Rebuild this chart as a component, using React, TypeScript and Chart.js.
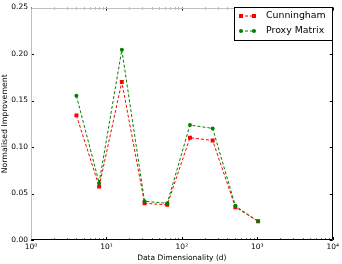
import React, { useEffect, useRef } from 'react';
import { Chart, registerables } from 'chart.js';

Chart.register(...registerables);

const dims = [4, 8, 16, 32, 64, 128, 256, 512, 1024];
const cunningham = [0.134, 0.0575, 0.170, 0.0395, 0.0378, 0.110, 0.107, 0.0353, 0.0201];
const proxyMatrix = [0.155, 0.0614, 0.2045, 0.0416, 0.0395, 0.1236, 0.120, 0.0367, 0.0201];
const seriesLabels = ['Cunningham', 'Proxy Matrix'];
const seriesColors = ['#ff0000', '#008000'];
const xTickLabels = ['10\u2070', '10\u00b9', '10\u00b2', '10\u00b3', '10\u2074'];
const yTickValues = [0, 0.05, 0.1, 0.15, 0.2, 0.25];
const xTitle = 'Data Dimensionality (d)';
const yTitle = 'Normalised Improvement';

const FONT = 'DejaVu Sans';

const framePlugin = {
  id: 'frameTicksLegend',
  afterDraw(chart: any) {
    const { ctx, chartArea: a, scales } = chart;
    const xs = scales.x;
    const ys = scales.y;
    ctx.save();
    ctx.lineWidth = 1;
    ctx.setLineDash([]);
    // x ticks (inward, bottom & top)
    for (let e = 0; e <= 4; e++) {
      for (let m = 1; m <= 9; m++) {
        const v = m * Math.pow(10, e);
        if (v > 10000) break;
        const px = Math.round(xs.getPixelForValue(v)) + 0.5;
        const major = m === 1;
        const len = major ? 3 : 2;
        ctx.strokeStyle = major ? '#000' : '#777';
        ctx.beginPath();
        ctx.moveTo(px, a.bottom);
        ctx.lineTo(px, a.bottom - len);
        ctx.moveTo(px, a.top);
        ctx.lineTo(px, a.top + len);
        ctx.stroke();
      }
    }
    // y ticks (inward, left & right)
    ctx.strokeStyle = '#000';
    yTickValues.forEach((v) => {
      const py = Math.round(ys.getPixelForValue(v)) + 0.5;
      ctx.beginPath();
      ctx.moveTo(a.left, py);
      ctx.lineTo(a.left + 3, py);
      ctx.moveTo(a.right, py);
      ctx.lineTo(a.right - 3, py);
      ctx.stroke();
    });
    // frame
    const L = Math.round(a.left) + 0.5;
    const R = Math.round(a.right) - 0.5;
    const T = Math.round(a.top) + 0.5;
    const B = Math.round(a.bottom) - 0.5;
    ctx.strokeStyle = '#bfbfbf';
    ctx.beginPath();
    ctx.moveTo(L, B);
    ctx.lineTo(L, T);
    ctx.lineTo(R, T);
    ctx.stroke();
    ctx.strokeStyle = '#000';
    ctx.beginPath();
    ctx.moveTo(L, B);
    ctx.lineTo(R, B);
    ctx.lineTo(R, T);
    ctx.stroke();

    // legend
    const lx = 234.5, ly = 7.5, lw = 98, lh = 33;
    ctx.fillStyle = '#fff';
    ctx.fillRect(lx, ly, lw, lh);
    ctx.strokeStyle = '#000';
    ctx.strokeRect(lx, ly, lw, lh);
    chart.data.datasets.forEach((ds: any, i: number) => {
      const yy = 16 + i * 15;
      ctx.strokeStyle = ds.borderColor;
      ctx.setLineDash([3, 2]);
      ctx.beginPath();
      ctx.moveTo(240, yy);
      ctx.lineTo(255, yy);
      ctx.stroke();
      ctx.setLineDash([]);
      ctx.fillStyle = ds.borderColor;
      [241, 254].forEach((mx) => {
        if (ds.pointStyle === 'rect') {
          ctx.fillRect(mx - 2, yy - 2, 4, 4);
        } else {
          ctx.beginPath();
          ctx.arc(mx, yy, 2, 0, Math.PI * 2);
          ctx.fill();
        }
      });
      ctx.fillStyle = '#000';
      ctx.font = `9.4px "${FONT}"`;
      ctx.textBaseline = 'middle';
      ctx.textAlign = 'left';
      ctx.fillText(ds.label, 266, yy);
    });
    ctx.restore();
  },
};

export default function App() {
  const ref = useRef<HTMLCanvasElement | null>(null);
  useEffect(() => {
    document.body.style.margin = '0';
    const canvas = ref.current!;
    const chart = new Chart(canvas, {
      type: 'line',
      data: {
        datasets: [
          {
            label: seriesLabels[0],
            data: dims.map((d, i) => ({ x: d, y: cunningham[i] })),
            borderColor: seriesColors[0],
            backgroundColor: seriesColors[0],
            borderWidth: 1,
            borderDash: [3, 2],
            pointStyle: 'rect',
            pointRadius: 2.8,
            pointBorderWidth: 0,
            order: 1,
          },
          {
            label: seriesLabels[1],
            data: dims.map((d, i) => ({ x: d, y: proxyMatrix[i] })),
            borderColor: seriesColors[1],
            backgroundColor: seriesColors[1],
            borderWidth: 1,
            borderDash: [3, 2],
            pointStyle: 'circle',
            pointRadius: 2,
            pointBorderWidth: 0,
            order: 0,
          },
        ],
      },
      options: {
        responsive: false,
        animation: false,
        layout: { padding: { top: 4, right: 6, left: 0, bottom: 0 } },
        plugins: { legend: { display: false }, tooltip: { enabled: false } },
        scales: {
          x: {
            type: 'logarithmic',
            min: 1,
            max: 10000,
            grid: { display: false, drawTicks: false },
            border: { display: false },
            ticks: {
              autoSkip: false,
              maxRotation: 0,
              padding: 3,
              color: '#000',
              font: { family: FONT, size: 7.5 },
              callback: (v: any) => {
                const e = Math.log10(Number(v));
                return Math.abs(e - Math.round(e)) < 1e-9 ? xTickLabels[Math.round(e)] : '';
              },
            },
            title: {
              display: true,
              text: xTitle,
              color: '#000',
              font: { family: FONT, size: 7.5 },
              padding: { top: 0, bottom: 1 },
            },
            afterFit: (s: any) => {
              s.height = 24;
            },
          },
          y: {
            min: 0,
            max: 0.25,
            grid: { display: false, drawTicks: false },
            border: { display: false },
            ticks: {
              stepSize: 0.05,
              padding: 3,
              color: '#000',
              font: { family: FONT, size: 7.5 },
              callback: (v: any) => Number(v).toFixed(2),
            },
            title: {
              display: true,
              text: yTitle,
              color: '#000',
              font: { family: FONT, size: 7.8 },
              padding: { top: 0, bottom: 0 },
            },
            afterFit: (s: any) => {
              s.width = 31;
            },
          },
        },
      },
      plugins: [framePlugin],
    } as any);
    return () => chart.destroy();
  }, []);
  return <canvas ref={ref} width={342} height={264} style={{ display: 'block' }} />;
}
